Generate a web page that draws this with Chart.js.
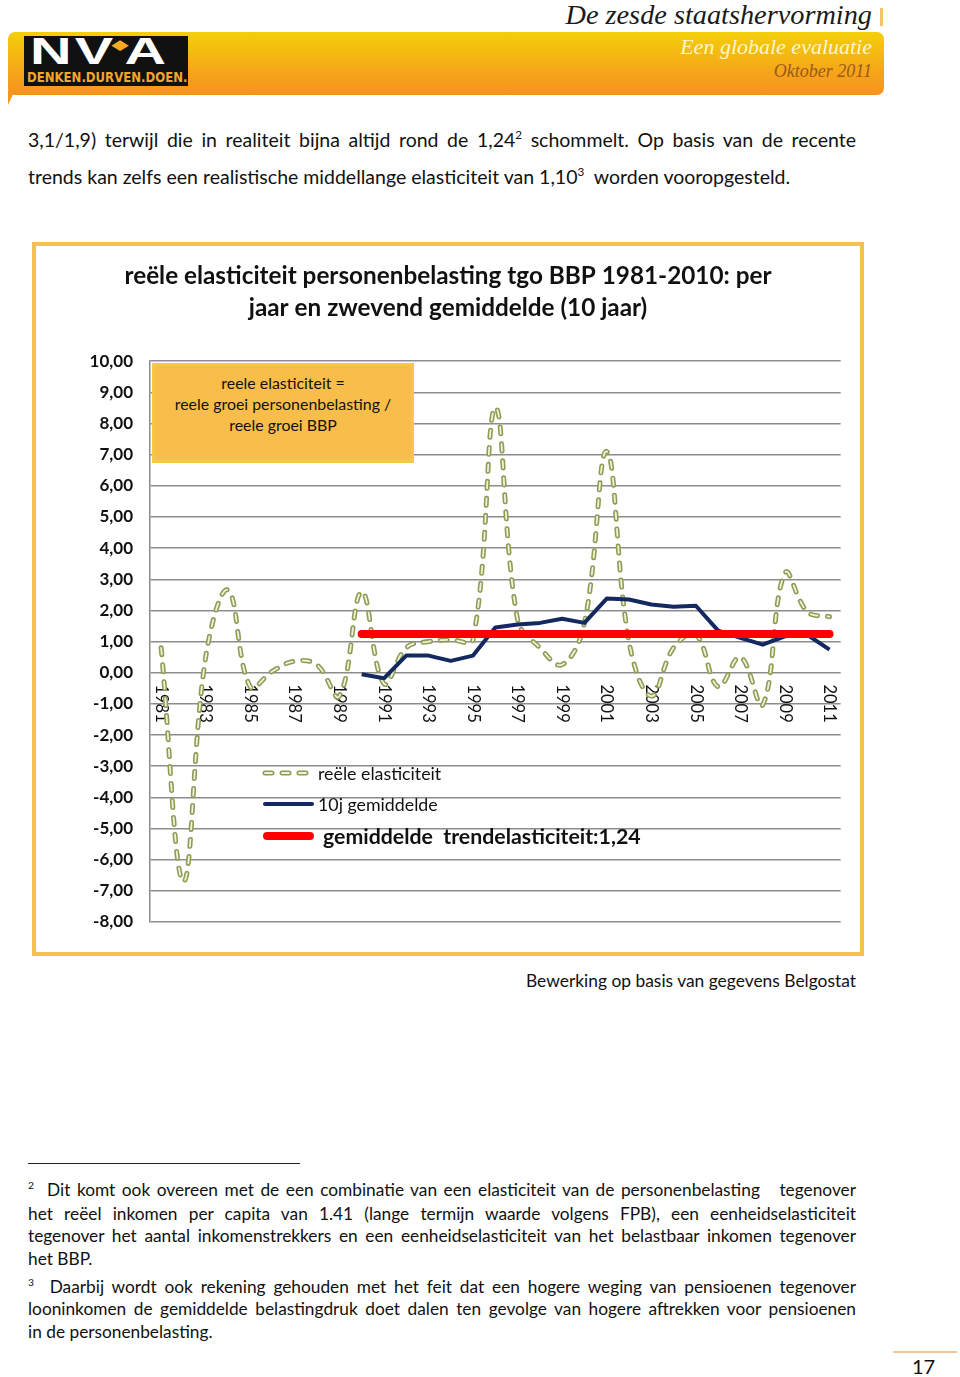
<!DOCTYPE html>
<html>
<head>
<meta charset="utf-8">
<script src="https://cdn.jsdelivr.net/npm/chart.js@4"></script>
<style>
  body { margin: 0; width: 960px; height: 1377px; position: relative; background: #fff; font-family: Lato, sans-serif; color: #111; overflow: hidden; }
  .abs { position: absolute; }
  .line { position: absolute; left: 28px; width: 828px; height: 24px; line-height: 24px; white-space: nowrap; }
  .just { text-align: justify; text-align-last: justify; white-space: normal; }
  sup { font-size: 0.6em; line-height: 0; vertical-align: 0.65em; }
  .leg { position: absolute; left: 0; height: 24px; line-height: 24px; white-space: pre; }
</style>
</head>
<body>

<!-- kop -->
<div class="abs" style="right:88px; top:-2px; font-family:'Liberation Serif'; font-style:italic; font-size:28.3px; line-height:34px; color:#1a1a1a;">De zesde staatshervorming</div>
<div class="abs" style="left:880px; top:8px; width:3px; height:18px; background:#f7c36a;"></div>
<div class="abs" style="left:8px; top:32px; width:876px; height:63px; border-radius:7px; background:linear-gradient(#f4cf0a, #f6a41a 65%, #f7931d);"></div>
<div class="abs" style="left:8px; top:90px; width:0; height:0; border-left:7px solid #f7951d; border-bottom:15px solid transparent;"></div>
<div class="abs" style="left:24px; top:36px; width:164px; height:50px; background:#111;"></div>
<div class="abs" style="left:30px; top:27px; font-family:'Liberation Sans'; font-weight:bold; font-size:36px; line-height:36px; color:#fff; letter-spacing:2px; transform:scaleX(1.6); transform-origin:left; white-space:nowrap;">NV<span style="color:#f7a823; font-size:13px; vertical-align:15px; margin:0 -4px 0 -3px;">&#9670;</span>A</div>
<div class="abs" style="left:27px; top:69px; width:200px; font-family:'DejaVu Sans Condensed','Liberation Sans'; font-weight:bold; font-size:14px; line-height:16px; color:#f5a52a; transform:scaleX(0.93); transform-origin:left; white-space:nowrap;">DENKEN.DURVEN.DOEN.</div>
<div class="abs" style="right:88px; top:34px; font-family:'Liberation Serif'; font-style:italic; font-size:22px; line-height:26px; color:#fff6c8;">Een globale evaluatie</div>
<div class="abs" style="right:88px; top:60px; font-family:'Liberation Serif'; font-style:italic; font-size:18px; line-height:22px; color:#9a5a18;">Oktober 2011</div>

<!-- tekst -->
<div class="line just" style="top:128px; font-size:19.5px;">3,1/1,9) terwijl die in realiteit bijna altijd rond de 1,24<sup>2</sup> schommelt. Op basis van de recente</div>
<div class="line" style="top:165px; font-size:19.5px;">trends kan zelfs een realistische middellange elasticiteit van 1,10<sup>3</sup>&nbsp; worden vooropgesteld.</div>

<!-- grafiek -->
<div class="abs" style="left:32px; top:242px; width:824px; height:706px; border:4px solid #f6c24f;"></div>
<canvas id="grafiek" class="abs" width="824" height="706" style="left:36px; top:246px;"></canvas>
<div class="abs" style="left:152px; top:363px; width:256px; height:94px; background:#f9be4a; border:3px solid #f7c843; text-align:center; font-size:15.9px; line-height:21px;">
  <div style="margin-top:6px;">reele elasticiteit =<br>reele groei personenbelasting /<br>reele groei BBP</div>
</div>
<div id="legende" class="abs" style="left:260px; top:761px; width:420px; height:90px;"></div>

<div class="abs" style="right:104px; top:969px; font-size:17.4px; line-height:24px;">Bewerking op basis van gegevens Belgostat</div>

<!-- voetnoten -->
<div class="abs" style="left:28px; top:1163px; width:272px; height:1px; background:#222;"></div>
<div class="line just" style="top:1178px; font-size:17.3px;"><sup>2</sup>&nbsp; Dit komt ook overeen met de een combinatie van een elasticiteit van de personenbelasting &nbsp; tegenover</div>
<div class="line just" style="top:1202px; font-size:17.3px;">het reëel inkomen per capita van 1.41 (lange termijn waarde volgens FPB), een eenheidselasticiteit</div>
<div class="line just" style="top:1224px; font-size:17.3px;">tegenover het aantal inkomenstrekkers en een eenheidselasticiteit van het belastbaar inkomen tegenover</div>
<div class="line" style="top:1247px; font-size:17.3px;">het BBP.</div>
<div class="line just" style="top:1275px; font-size:17.3px;"><sup>3</sup>&nbsp; Daarbij wordt ook rekening gehouden met het feit dat een hogere weging van pensioenen tegenover</div>
<div class="line just" style="top:1297px; font-size:17.3px;">looninkomen de gemiddelde belastingdruk doet dalen ten gevolge van hogere aftrekken voor pensioenen</div>
<div class="line" style="top:1320px; font-size:17.3px;">in de personenbelasting.</div>

<div class="abs" style="left:893px; top:1351px; width:64px; height:2px; background:#f2c795;"></div>
<div class="abs" style="left:912px; top:1354px; font-size:20px; line-height:24px;">17</div>

<script>
// jaren op de x-as
var jaren = ["1981", "1982", "1983", "1984", "1985", "1986", "1987", "1988", "1989", "1990",
  "1991", "1992", "1993", "1994", "1995", "1996", "1997", "1998", "1999", "2000",
  "2001", "2002", "2003", "2004", "2005", "2006", "2007", "2008", "2009", "2010", "2011"];
// enkel deze jaren krijgen een label
var jaarLabels = ["1981", "1983", "1985", "1987", "1989", "1991", "1993", "1995",
  "1997", "1999", "2001", "2003", "2005", "2007", "2009", "2011"];

var reeleElasticiteit = [0.8, -6.7, 0.5, 2.65, -0.45, 0.05, 0.37, 0.25, -0.75, 2.6,
  -0.35, 0.8, 1.0, 1.06, 1.06, 8.5, 1.7, 0.8, 0.26, 1.6,
  7.1, 1.0, -0.75, 0.8, 1.22, -0.45, 0.5, -1.03, 3.2, 1.96, 1.8];

var gemiddelde10j = [null, null, null, null, null, null, null, null, null, -0.05,
  -0.18, 0.55, 0.55, 0.38, 0.55, 1.45, 1.55, 1.6, 1.73, 1.6,
  2.38, 2.35, 2.19, 2.12, 2.15, 1.35, 1.12, 0.9, 1.17, 1.22, 0.74];

var trendElasticiteit = [null, null, null, null, null, null, null, null, null, 1.24,
  1.24, 1.24, 1.24, 1.24, 1.24, 1.24, 1.24, 1.24, 1.24, 1.24,
  1.24, 1.24, 1.24, 1.24, 1.24, 1.24, 1.24, 1.24, 1.24, 1.24, 1.24];

var groen = "#8d9e54";
var groenBinnen = "#eef2dc";
var blauw = "#13295f";
var rood = "#ff0000";

Chart.defaults.font.family = "Lato";
Chart.defaults.color = "#111";

var ctx = document.getElementById("grafiek").getContext("2d");
var grafiek = new Chart(ctx, {
  type: "line",
  data: {
    labels: jaren,
    datasets: [
      {
        label: "gemiddelde  trendelasticiteit:1,24",
        data: trendElasticiteit,
        borderColor: rood,
        borderWidth: 8,
        borderCapStyle: "round",
        pointRadius: 0,
        tension: 0,
        order: 0,
      },
      {
        label: "10j gemiddelde",
        data: gemiddelde10j,
        borderColor: blauw,
        borderWidth: 4,
        borderJoinStyle: "round",
        pointRadius: 0,
        tension: 0,
        order: 1,
      },
      {
        // binnenkant van de dubbele stippellijn
        label: "_binnen",
        data: reeleElasticiteit,
        borderColor: groenBinnen,
        borderWidth: 1.8,
        borderDash: [7, 10],
        borderCapStyle: "round",
        pointRadius: 0,
        tension: 0.4,
        order: 2,
      },
      {
        label: "reële elasticiteit",
        data: reeleElasticiteit,
        borderColor: groen,
        borderWidth: 5,
        borderDash: [7, 10],
        borderCapStyle: "round",
        pointRadius: 0,
        tension: 0.4,
        order: 3,
      },
    ],
  },
  options: {
    responsive: false,
    animation: false,
    layout: { padding: { left: 18, right: 18, top: 0, bottom: 30 } },
    plugins: {
      legend: { display: false },
      tooltip: { enabled: false },
      title: {
        display: true,
        text: ["reële elasticiteit personenbelasting tgo BBP 1981-2010: per", "jaar en zwevend gemiddelde (10 jaar)"],
        font: { size: 24.3, weight: "bold", lineHeight: 1.32 },
        color: "#111",
        padding: { top: 14, bottom: 37 },
      },
    },
    scales: {
      x: {
        position: { y: 0 },
        offset: true,
        grid: { display: false, drawTicks: false },
        border: { display: false },
        afterFit: function (scale) {
          scale.height = 0;
        },
        ticks: {
          autoSkip: false,
          minRotation: -90,
          maxRotation: -90,
          padding: 50,
          font: { size: 16.5 },
          color: "#111",
          callback: function (v, i) {
            return jaarLabels.indexOf(jaren[i]) >= 0 ? jaren[i] : "";
          },
        },
      },
      y: {
        min: -8,
        max: 10,
        afterFit: function (scale) {
          scale.width = 96;
        },
        grid: { color: "#8c8c8c", lineWidth: 1.5, drawTicks: false },
        border: { color: "#8c8c8c", width: 1.5 },
        ticks: {
          stepSize: 1,
          padding: 17,
          font: { size: 17, weight: "bold" },
          color: "#111",
          callback: function (v) {
            return v.toFixed(2).replace(".", ",");
          },
        },
      },
    },
  },
});

// legende in de grafiek, opgebouwd uit de datasets
var legende = document.getElementById("legende");
var rijen = [
  { ds: grafiek.data.datasets[3], top: 0, tekstLinks: 58, font: "17.8px", gewicht: "normal" },
  { ds: grafiek.data.datasets[1], top: 31, tekstLinks: 58, font: "17.8px", gewicht: "normal" },
  { ds: grafiek.data.datasets[0], top: 63, tekstLinks: 63, font: "21.3px", gewicht: "bold" },
];
rijen.forEach(function (r) {
  var svg = '<svg class="abs" style="left:0;top:' + r.top + 'px" width="58" height="24">';
  if (r.ds.borderDash) {
    svg += '<line x1="5" y1="12" x2="50" y2="12" stroke="' + groen + '" stroke-width="5" stroke-linecap="round" stroke-dasharray="7 10"/>';
    svg += '<line x1="5" y1="12" x2="50" y2="12" stroke="' + groenBinnen + '" stroke-width="1.8" stroke-linecap="round" stroke-dasharray="7 10"/>';
  } else {
    var w = r.ds.borderWidth;
    svg += '<line x1="' + (3 + w / 2) + '" y1="12" x2="' + (54 - w / 2) + '" y2="12" stroke="' + r.ds.borderColor + '" stroke-width="' + w + '" stroke-linecap="round"/>';
  }
  svg += "</svg>";
  legende.insertAdjacentHTML("beforeend", svg);
  var d = document.createElement("div");
  d.className = "leg";
  d.style.left = r.tekstLinks + "px";
  d.style.top = r.top + "px";
  d.style.fontSize = r.font;
  d.style.fontWeight = r.gewicht;
  d.textContent = r.ds.label;
  legende.appendChild(d);
});
</script>
</body>
</html>
